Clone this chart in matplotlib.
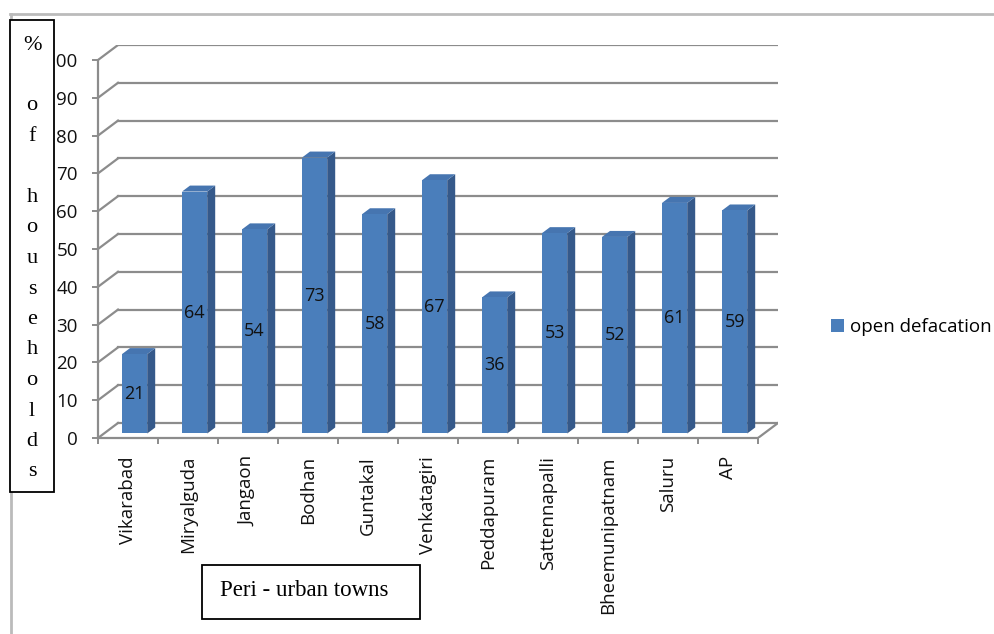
import matplotlib
matplotlib.use("Agg")
import matplotlib.pyplot as plt
from matplotlib.patches import Polygon, Rectangle, Patch
from matplotlib.lines import Line2D

# data
towns = ["Vikarabad", "Miryalguda", "Jangaon", "Bodhan", "Guntakal", "Venkatagiri",
         "Peddapuram", "Sattennapalli", "Bheemunipatnam", "Saluru", "AP"]
open_defecation = [21, 64, 54, 73, 58, 67, 36, 53, 52, 61, 59]
y_ticks = list(range(0, 101, 10))
series_name = "open defacation"
y_title = ["%", "", "o", "f", "", "h", "o", "u", "s", "e", "h", "o", "l", "d", "s"]
x_title = "Peri - urban towns"

SANS = "Open Sans"
SERIF = "Liberation Serif"

W, H = 995, 634
fig = plt.figure(figsize=(W / 100, H / 100), dpi=100)
fig.patch.set_facecolor("white")

n = len(towns)
dx, dy = 1 / 3, 3.97          # depth offset of the back wall in data units
ax = fig.add_axes([98 / W, 196 / H, 680 / W, 393 / H])
ax.set_xlim(0, n + dx)
ax.set_ylim(0, 100 + dy)
for s in ax.spines.values():
    s.set_visible(False)

grid_c = "#8C8C8C"
# back wall grid lines + left wall diagonals
for v in y_ticks:
    ax.plot([dx, n + dx], [v + dy, v + dy], color=grid_c, lw=1.6, zorder=1)
    ax.plot([0, dx], [v, v + dy], color=grid_c, lw=1.6, zorder=1)
# floor front edge and right edge, front axis line
ax.plot([0, n], [0, 0], color=grid_c, lw=1.6, zorder=1, clip_on=False)
ax.plot([n, n + dx], [0, dy], color=grid_c, lw=1.6, zorder=1)
ax.plot([0, 0], [0, 100], color=grid_c, lw=1.6, zorder=1, clip_on=False)

# 3d bars
front_c, side_c, top_c = "#4A7EBB", "#35598A", "#4675B0"
f0, f1 = 0.3, 0.7
bw = 0.42
for i, v in enumerate(open_defecation):
    x0 = i + 0.3 + f0 * dx
    x1 = x0 + bw
    yb = f0 * dy
    yt = v + f0 * dy
    ddx = (f1 - f0) * dx
    ddy = (f1 - f0) * dy
    ax.add_patch(Polygon([(x1, yb), (x1 + ddx, yb + ddy), (x1 + ddx, yt + ddy), (x1, yt)],
                         closed=True, fc=side_c, ec="none", zorder=3))
    ax.add_patch(Polygon([(x0, yt), (x1, yt), (x1 + ddx, yt + ddy), (x0 + ddx, yt + ddy)],
                         closed=True, fc=top_c, ec="none", zorder=3))
    ax.add_patch(Rectangle((x0, yb), bw, v, fc=front_c, ec="none", zorder=4))
    ax.text(x0 + bw / 2, yb + v / 2, str(v), ha="center", va="center",
            fontsize=13, family=SANS, color="#111111", zorder=5)

# axes ticks
ax.set_yticks(y_ticks)
ax.set_yticklabels([str(t) for t in y_ticks], family=SANS, fontsize=13.5, color="#111111")
ax.tick_params(axis="y", length=4.5, width=1.4, color=grid_c, pad=10)
ax.set_xticks([i + 0.5 for i in range(n)])
ax.set_xticklabels(towns, rotation=90, family=SANS, fontsize=13.5, color="#111111")
ax.set_xticks(range(n + 1), minor=True)
ax.tick_params(axis="x", which="major", length=0, pad=13)
ax.tick_params(axis="x", which="minor", length=4.5, width=1.4, color=grid_c)

# legend
ax.legend(handles=[Patch(fc=front_c, ec="none", label=series_name)],
          loc="center left", bbox_to_anchor=(814 / W, 1 - 327 / H),
          bbox_transform=fig.transFigure, frameon=False,
          prop={"family": SANS, "size": 13.5}, handlelength=0.7, handleheight=0.7,
          handletextpad=0.3)

# outer frame lines
fig.add_artist(Line2D([10 / W, 1], [1 - 14 / H, 1 - 14 / H], color="#BBBBBB", lw=2))
fig.add_artist(Line2D([11 / W, 11 / W], [0, 1 - 14 / H], color="#BBBBBB", lw=2))

# y title box
fig.add_artist(Rectangle((10 / W, 1 - 492 / H), 44 / W, 472 / H, transform=fig.transFigure,
                         fc="white", ec="black", lw=1.3, zorder=5))
for k, ch in enumerate(y_title):
    if ch:
        fig.text(32 / W, 1 - (45 + k * 30.5) / H, ch, ha="center", va="center",
                 family=SERIF, fontsize=16, zorder=6)

# x title box
fig.add_artist(Rectangle((202 / W, 1 - 619 / H), 218 / W, 54 / H, transform=fig.transFigure,
                         fc="white", ec="black", lw=1.3, zorder=5))
fig.text(304 / W, 1 - 591 / H, x_title, ha="center", va="center",
         family=SERIF, fontsize=16.5, zorder=6)

fig.savefig("out.png", dpi=100)
